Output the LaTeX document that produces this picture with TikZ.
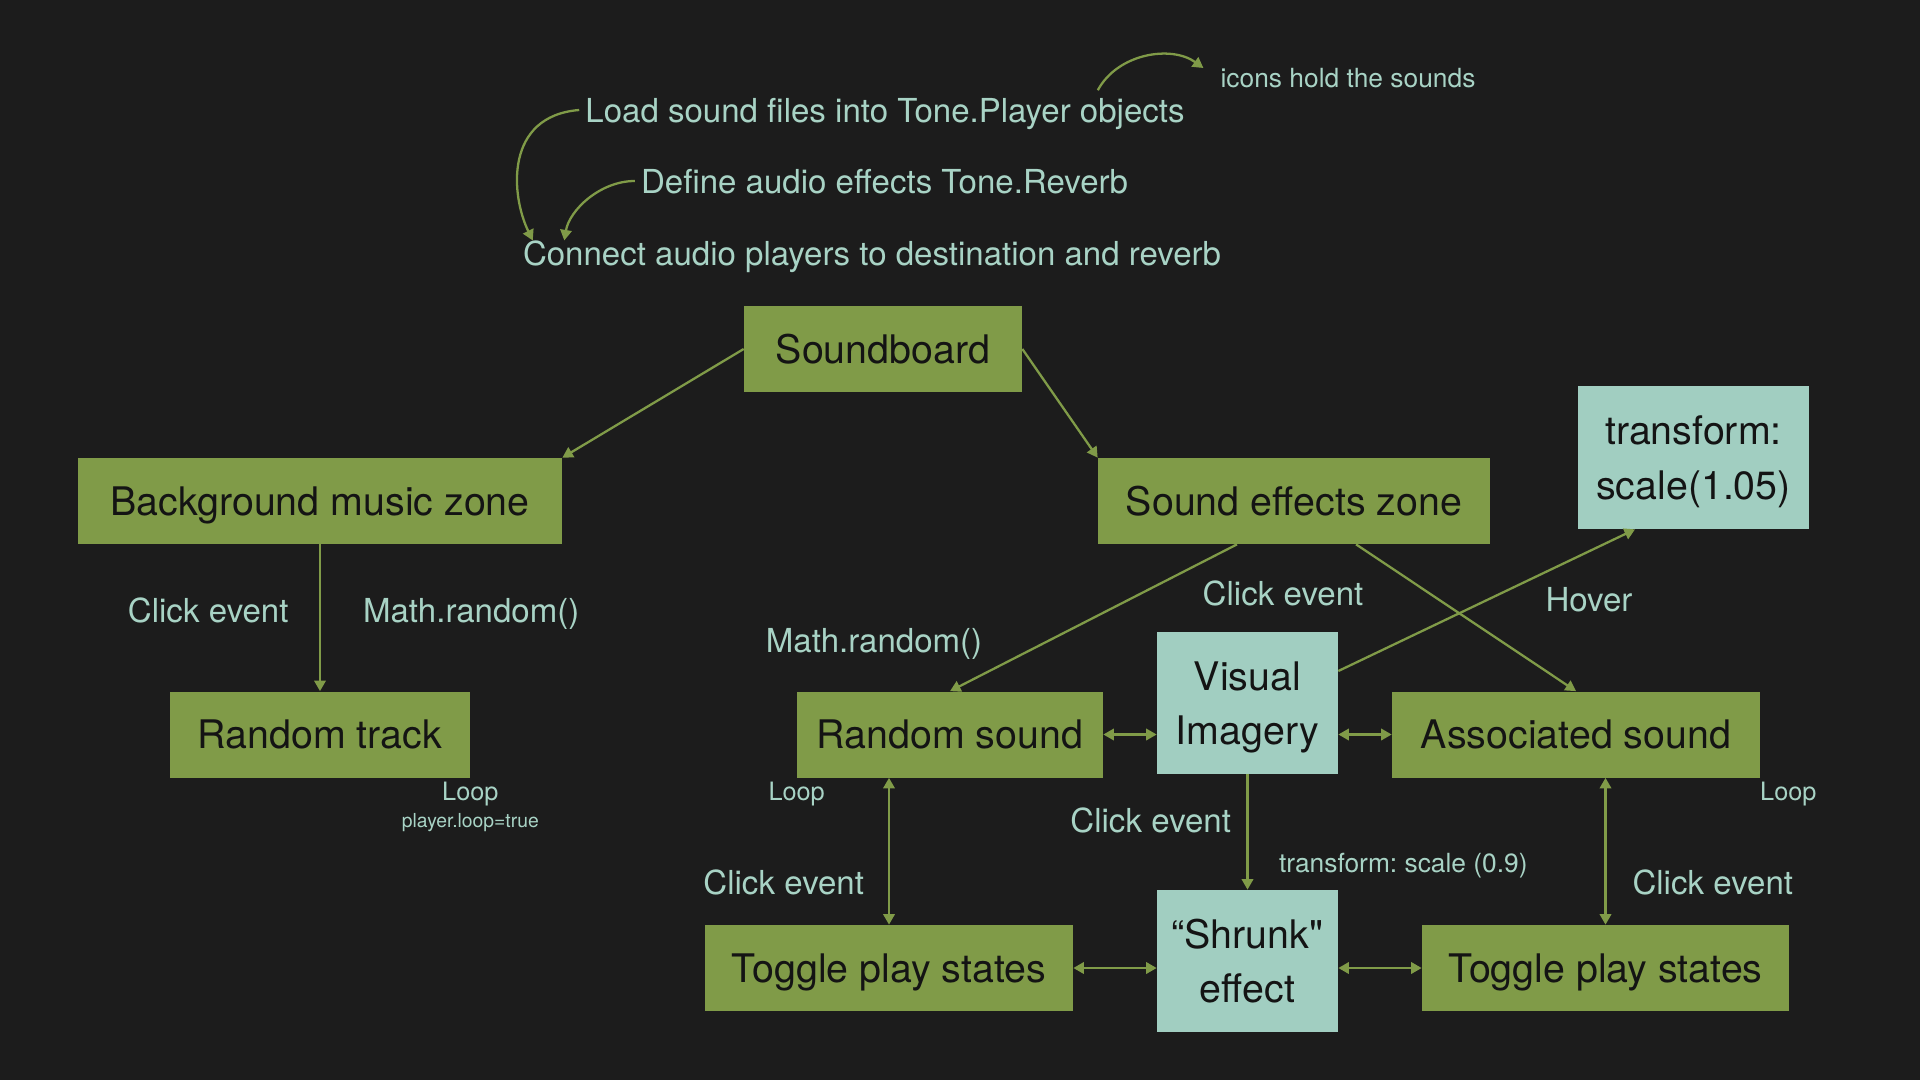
\documentclass[tikz,border=0pt]{standalone}
\usepackage{fontspec}
\setmainfont{TeX Gyre Heros}
\newfontfamily\plainheros{TeX Gyre Heros}
\usepackage{xcolor}
\usepackage{tikz}
\usetikzlibrary{shapes.geometric, arrows.meta}
\frenchspacing
\definecolor{bgdark}{HTML}{1C1C1C}
\definecolor{boxgreen}{HTML}{809B48}
\definecolor{boxteal}{HTML}{A1CEC1}
\definecolor{boxtext}{HTML}{141414}
\definecolor{labelteal}{HTML}{A8D3C5}
\definecolor{linegreen}{HTML}{809B48}
\tikzstyle{zone} = [rectangle, minimum height=1.72cm, text centered, text depth=0pt, fill=boxgreen, text=boxtext, font=\fontsize{22.4}{31}\selectfont]
\tikzstyle{effect} = [rectangle, minimum width=3.62cm, minimum height=2.84cm, align=center, text depth=0pt, fill=boxteal, text=boxtext, font=\fontsize{22.4}{31}\selectfont]
\tikzstyle{note} = [text=labelteal, text depth=0pt, font=\fontsize{18.8}{22}\selectfont]
\tikzstyle{smallnote} = [text=labelteal, text depth=0pt, font=\fontsize{15}{18}\selectfont]
\tikzstyle{loopnote} = [text=labelteal, inner sep=2pt, font=\fontsize{14.4}{17}\selectfont]
\tikzstyle{arrow} = [line width=1.3pt, draw=linegreen, -{Triangle[length=6pt,width=6.5pt]}]
\tikzstyle{twoway} = [line width=1.3pt, draw=linegreen, {Triangle[length=6pt,width=6.5pt]}-{Triangle[length=6pt,width=6.5pt]}]
\begin{document}
\begin{tikzpicture}[node distance=4.67cm]
		\useasboundingbox (0,0) rectangle (38.4,-21.6);
		\fill [bgdark] (0,0) rectangle (38.4,-21.6);
		\node (board) [zone, minimum width=5.56cm] at (17.66,-6.98) {Soundboard};
		\node (bgzone) [zone, minimum width=9.68cm, below of=board, xshift=-11.26cm, yshift=1.63cm] {Background music zone};
		\node (sfxzone) [zone, minimum width=7.84cm, below of=board, xshift=8.22cm, yshift=1.63cm] {Sound effects zone};
		\node (scalebox) [effect, minimum width=4.62cm, minimum height=2.86cm, right of=sfxzone, xshift=3.32cm, yshift=0.87cm] {transform:\\scale(1.05)};
		\node (rtrack) [zone, minimum width=6cm, below of=bgzone] {Random track};
		\node (rsound) [zone, minimum width=6.12cm, below of=sfxzone, xshift=-6.88cm] {Random sound};
		\node (asound) [zone, minimum width=7.36cm, below of=sfxzone, xshift=5.64cm] {Associated sound};
		\node (visual) [effect, right of=rsound, xshift=1.28cm, yshift=0.63cm] {Visual\\Imagery};
		\node (shrunk) [effect, below of=visual, yshift=-0.49cm] {“Shrunk{\plainheros"}\\effect};
		\node (toggleL) [zone, minimum width=7.36cm, below of=rsound, xshift=-1.22cm] {Toggle play states};
		\node (toggleR) [zone, minimum width=7.34cm, below of=asound, xshift=0.59cm] {Toggle play states};
		\node (load) [note] at (17.70,-2.20) {Load sound files into Tone.Player objects};
		\node (define) [note] at (17.69,-3.62) {Define audio effects Tone.Reverb};
		\node (connect) [note] at (17.44,-5.06) {Connect audio players to destination and reverb};
		\node (icons) [smallnote] at (26.96,-1.56) {icons hold the sounds};
		\node (rmath) [note] at (17.48,-12.80) {Math.random()};
		\node (sfxclick) [note] at (25.66,-11.86) {Click event};
		\node (hover) [note] at (31.78,-11.98) {Hover};
		\node (rtloop) [loopnote, anchor=north] at (rtrack.south east) {Loop};
		\node (rtplayer) [loopnote, font=\fontsize{11}{13}\selectfont, anchor=north] at (rtloop.south) {player.loop=true};
		\node (rsloop) [loopnote, anchor=north] at (rsound.south west) {Loop};
		\node (asloop) [loopnote, anchor=north, xshift=0.56cm] at (asound.south east) {Loop};
		\draw [arrow] (load.west) .. controls +(-1.5,-0.12) and +(-0.44,0.9) .. ([xshift=0.32cm,yshift=-0.12cm]connect.north west);
		\draw [arrow] (define.west) .. controls +(-0.7,0) and +(0.1,0.6) .. ([xshift=0.95cm,yshift=-0.12cm]connect.north west);
		\draw [arrow] ([xshift=-1.86cm,yshift=0.03cm]load.north east) .. controls +(0.4,0.74) and +(-0.64,0.46) .. ([xshift=-0.22cm,yshift=0.2cm]icons.west);
		\draw [arrow] (board.west) -- (bgzone.north east);
		\draw [arrow] (board.east) -- (sfxzone.north west);
		\draw [arrow] (bgzone) -- node[note, pos=0.45, anchor=east, xshift=-0.49cm] (bgclick) {Click event} node[note, pos=0.45, anchor=west, xshift=0.72cm] (bgmath) {Math.random()} (rtrack);
		\draw [arrow] ([xshift=-1.14cm]sfxzone.south) -- (rsound.north);
		\draw [arrow] ([xshift=1.24cm]sfxzone.south) -- (asound.north);
		\draw [arrow] ([yshift=0.64cm]visual.east) -- ([xshift=-1.17cm]scalebox.south);
		\draw [twoway] (rsound.east) -- (rsound.east -| visual.west);
		\draw [twoway] (visual.east |- asound.west) -- (asound.west);
		\draw [arrow] (visual) -- node[note, pos=0.4, anchor=east, xshift=-0.19cm] (visclick) {Click event} node[smallnote, pos=0.77, anchor=west, xshift=0.49cm] (visscale) {transform: scale (0.9)} (shrunk);
		\draw [twoway] (toggleL.north |- rsound.south) -- node[note, pos=0.71, anchor=east, xshift=-0.36cm] (rsclick) {Click event} (toggleL.north);
		\draw [twoway] (toggleR.north |- asound.south) -- node[note, pos=0.71, anchor=west, xshift=0.40cm] (asclick) {Click event} (toggleR.north);
		\draw [twoway] (toggleL.east) -- (toggleL.east -| shrunk.west);
		\draw [twoway] (shrunk.east |- toggleR.west) -- (toggleR.west);
	\end{tikzpicture}
\end{document}
